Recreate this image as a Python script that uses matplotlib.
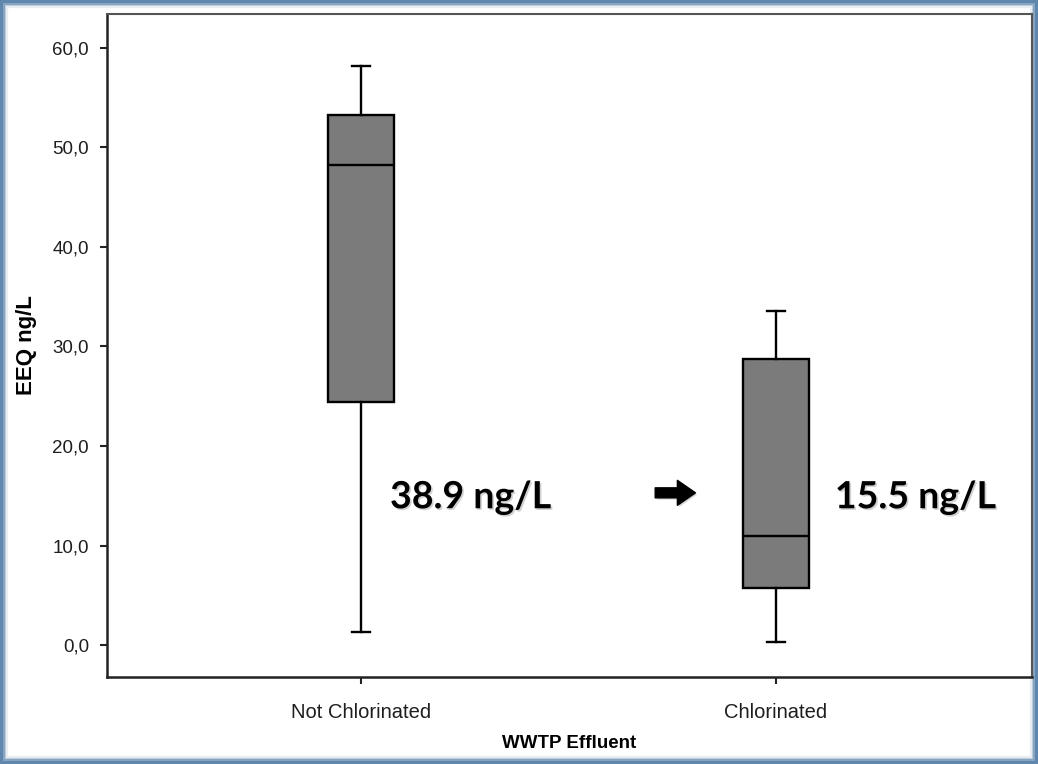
import matplotlib
matplotlib.use("Agg")
import matplotlib.pyplot as plt
import matplotlib.patheffects as pe
from matplotlib.patches import Rectangle

# Box statistics (EEQ ng/L)
groups = ["Not Chlorinated", "Chlorinated"]
whisker_low = [1.3, 0.3]
q1 = [24.4, 5.7]
median = [48.2, 11.0]
q3 = [53.3, 28.7]
whisker_high = [58.2, 33.6]
mean_labels = ["38.9 ng/L", "15.5 ng/L"]
yticks = [0, 10, 20, 30, 40, 50, 60]

fig = plt.figure(figsize=(10.38, 7.64), dpi=100)
fig.patch.set_facecolor("#5f86ad")

# soft bluish frame around the white slide area
for i, a in enumerate([0.25, 0.45, 0.65, 0.85, 1.0]):
    inset_x = (3 + i * 1.6) / 1038
    inset_y = (3 + i * 1.6) / 764
    fig.add_artist(Rectangle((inset_x, inset_y), 1 - 2 * inset_x, 1 - 2 * inset_y,
                             transform=fig.transFigure, facecolor="white",
                             edgecolor="none", alpha=a, zorder=0))

ax = fig.add_axes([107 / 1038, (764 - 677) / 764, 925 / 1038, 663 / 764])
ax.set_facecolor("white")

stats = []
for k in range(len(groups)):
    stats.append(dict(whislo=whisker_low[k], q1=q1[k], med=median[k],
                      q3=q3[k], whishi=whisker_high[k], fliers=[], label=groups[k]))

ax.bxp(stats, positions=[1, 2], widths=0.157, capwidths=0.045,
       patch_artist=True, showfliers=False,
       boxprops=dict(facecolor="#7b7b7b", edgecolor="black", linewidth=1.7),
       medianprops=dict(color="black", linewidth=1.7),
       whiskerprops=dict(color="black", linewidth=1.7),
       capprops=dict(color="black", linewidth=1.7))

ax.set_xlim(0.388, 2.617)
ax.set_ylim(-3.2, 63.4)
ax.set_yticks(yticks)
ax.set_yticklabels([f"{v:.1f}".replace(".", ",") for v in yticks],
                   fontsize=13.5, family="Liberation Sans", color="#1e1e1e")
ax.set_xticks([1, 2])
ax.set_xticklabels(groups, fontsize=14.5, family="Liberation Sans", color="#1e1e1e")
ax.tick_params(axis="both", direction="out", length=5, width=1.5, color="#222222")
ax.tick_params(axis="x", pad=14)
ax.tick_params(axis="y", pad=8)

for side in ["left", "bottom"]:
    ax.spines[side].set_linewidth(1.8)
    ax.spines[side].set_color("#222222")
for side in ["top", "right"]:
    ax.spines[side].set_linewidth(1.5)
    ax.spines[side].set_color("#555555")

ax.set_ylabel("EEQ ng/L", fontsize=16, fontweight="bold", family="Liberation Sans",
              labelpad=11)
ax.set_xlabel("WWTP Effluent", fontsize=13.5, fontweight="bold", family="Liberation Sans",
              labelpad=9)

shadow = [pe.withSimplePatchShadow(offset=(1.2, -1.2), shadow_rgbFace="gray", alpha=0.35)]
ax.text(1.07, 13.75, mean_labels[0], fontsize=27, fontweight="bold", family="Lato",
        va="baseline", ha="left", path_effects=shadow)
ax.text(2.142, 13.75, mean_labels[1], fontsize=27, fontweight="bold", family="Lato",
        va="baseline", ha="left", path_effects=shadow)

# heavy arrow between the two means
ax.annotate("", xy=(1.806, 15.3), xytext=(1.709, 15.3),
            arrowprops=dict(arrowstyle="simple,head_width=0.9,head_length=0.65,tail_width=0.36",
                            color="black", shrinkA=0, shrinkB=0, mutation_scale=20,
                            path_effects=shadow))

fig.savefig("out.png", dpi=100, facecolor=fig.get_facecolor())
